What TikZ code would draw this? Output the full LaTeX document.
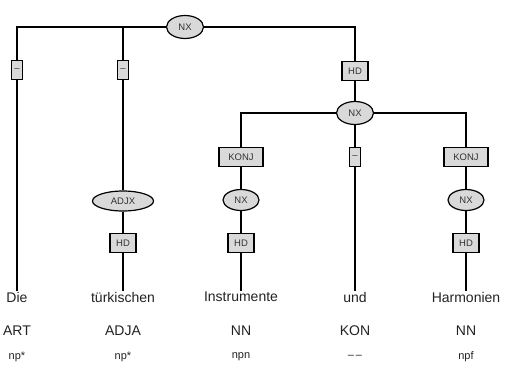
\documentclass[tikz,border=0pt]{standalone}
\usepackage{fontspec}
\setmainfont{Liberation Sans}
\usepackage{xcolor}
\usepackage{tikz}
\usetikzlibrary{positioning,shapes.geometric}
\definecolor{Cat}{HTML}{D9D9D9}
\definecolor{Ink}{HTML}{222222}
\definecolor{Lbl}{HTML}{333333}

\begin{document}
\begin{tikzpicture}[
  x=1pt,y=-1pt,
  every node/.style={align=center,text=Ink},
  cat/.style={ellipse,draw=black,fill=Cat,line width=1.2pt,inner sep=0pt,
    minimum width=37pt,minimum height=23pt,font=\fontsize{9.5}{10}\selectfont,text=Lbl},
  edgelab/.style={rectangle,draw=black,fill=Cat,line width=1.2pt,inner sep=1.5pt,
    minimum width=11pt,minimum height=19pt,font=\fontsize{9.5}{10}\selectfont,text=Lbl},
  word/.style={font=\fontsize{14}{16}\selectfont,inner sep=1pt},
  tag/.style={font=\fontsize{14}{16}\selectfont,inner sep=1pt},
  morph/.style={font=\fontsize{11}{13}\selectfont,inner sep=1pt},
  br/.style={line width=1.3pt,black}
]
\useasboundingbox (0,0) rectangle (505,370);
% tree nodes
\node[cat] (nxtop) at (185,27) {NX};
\node[edgelab] (dA) at (17,70) {--};
\node[edgelab] (dB) at (123,70) {--};
\node[edgelab,minimum width=26pt] (hdR) at (355,71) {HD};
\node[cat] (nxR) at (355,113) {NX};
\node[edgelab,minimum width=44pt] (konjI) at (241,157) {KONJ};
\node[edgelab] (dU) at (355,157) {--};
\node[edgelab,minimum width=44pt] (konjH) at (466,157) {KONJ};
\node[cat,minimum width=61pt,minimum height=20pt] (adjx) at (123,201) {ADJX};
\node[cat,minimum width=36pt,minimum height=21pt] (nxI) at (241,200) {NX};
\node[cat,minimum width=36pt,minimum height=21pt] (nxH) at (466,200) {NX};
\node[edgelab,minimum width=26pt] (hdT) at (123,243) {HD};
\node[edgelab,minimum width=26pt] (hdI) at (241,243) {HD};
\node[edgelab,minimum width=26pt] (hdH) at (466,243) {HD};
% terminals
\node[word] (wDie) at (17,297) {Die};
\node[word] (wTuerk) at (123,297) {türkischen};
\node[word] (wInstr) at (241,297) {Instrumente};
\node[word] (wUnd) at (355,297) {und};
\node[word] (wHarm) at (466,297) {Harmonien};
\node[tag] (tDie) at (17,331) {ART};
\node[tag] (tTuerk) at (123,331) {ADJA};
\node[tag] (tInstr) at (241,331) {NN};
\node[tag] (tUnd) at (355,331) {KON};
\node[tag] (tHarm) at (466,331) {NN};
\node[morph] (mDie) at (17,357) {np*};
\node[morph] (mTuerk) at (123,357) {np*};
\node[morph] (mInstr) at (241,357) {npn};
\node[morph] (mUnd) at (355,357) {--\,--};
\node[morph] (mHarm) at (466,357) {npf};
% branches
\draw[br] (nxtop) -| (dA);
\draw[br] (nxtop) -| (dB);
\draw[br] (nxtop) -| (hdR);
\draw[br] (hdR) -- (nxR);
\draw[br] (nxR) -| (konjI);
\draw[br] (nxR) -- (dU);
\draw[br] (nxR) -| (konjH);
\draw[br] (dA) -- (wDie);
\draw[br] (dB) -- (adjx);
\draw[br] (adjx) -- (hdT);
\draw[br] (hdT) -- (wTuerk);
\draw[br] (konjI) -- (nxI);
\draw[br] (nxI) -- (hdI);
\draw[br] (hdI) -- (wInstr);
\draw[br] (dU) -- (wUnd);
\draw[br] (konjH) -- (nxH);
\draw[br] (nxH) -- (hdH);
\draw[br] (hdH) -- (wHarm);
\end{tikzpicture}
\end{document}
